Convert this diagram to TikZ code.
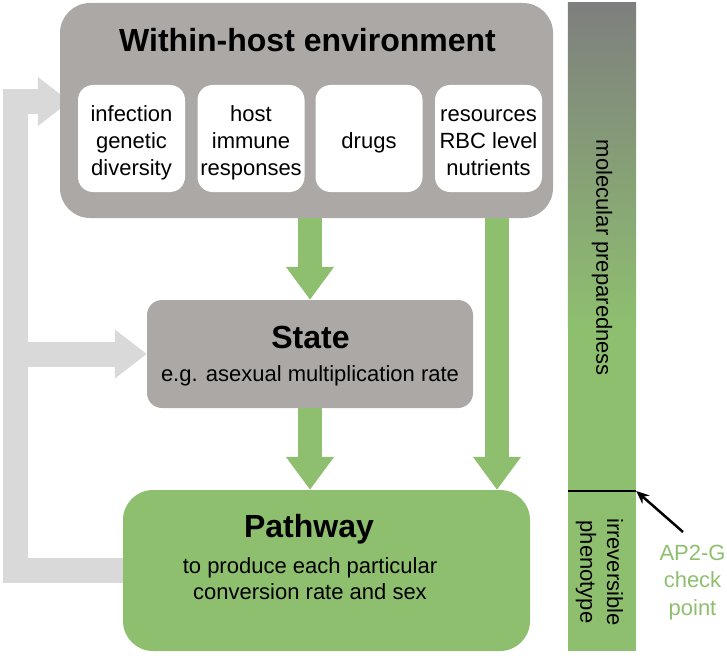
\documentclass[tikz,border=0pt]{standalone}
\usepackage{fontspec}
\setmainfont{Liberation Sans}
\usetikzlibrary{arrows.meta}
\pgfdeclarelayer{bg}
\pgfsetlayers{bg,main}
\definecolor{boxgrey}{HTML}{ABA8A6}
\definecolor{leaf}{HTML}{8EBF6F}
\definecolor{pale}{HTML}{D9D9D9}
\definecolor{bartop}{HTML}{7E7F7E}
\newcommand{\txtA}{\fontsize{22}{26.7}\selectfont}
\newcommand{\ttlfont}{\fontsize{32}{38}\selectfont\bfseries}
\newcommand{\boxlines}[1]{\begin{tabular}{@{}c@{}}\rule{0pt}{28pt}#1\end{tabular}}
\tikzset{
  bigbox/.style={fill=boxgrey, draw=none, rounded corners=30pt, inner sep=0pt},
  innerbox/.style={fill=white, draw=none, rounded corners=15pt, inner sep=0pt,
    minimum width=107pt, minimum height=107pt, align=center},
  statebox/.style={fill=boxgrey, draw=none, rounded corners=15pt, inner sep=0pt,
    minimum width=326pt, minimum height=108pt},
  pathbox/.style={fill=leaf, draw=none, rounded corners=30pt, inner sep=0pt,
    minimum width=407pt, minimum height=161pt},
  barbox/.style={fill=leaf, draw=none, inner sep=0pt, minimum width=68pt, minimum height=648pt},
  ttl/.style={font=\ttlfont, anchor=base, inner sep=0pt},
  plain/.style={font=\txtA, inner sep=0pt},
  garrow/.style={leaf, line width=24pt, -{Triangle[width=46pt,length=33pt]}},
  parrow/.style={pale, line width=25pt, line join=miter, -{Triangle[width=47pt,length=32pt]}},
}
\begin{document}
\begin{tikzpicture}[x=1pt, y=-1pt, every node/.style={font=\txtA}]
\useasboundingbox (0,0) rectangle (727,655);

% boxes
\node[bigbox, minimum width=493pt, minimum height=215pt] (env) at (306.5,110.5) {};
\node[ttl] (envT) at (307.5,52) {Within-host environment};
\node[innerbox] (b1) at (131.5,138.5) {\boxlines{infection\\genetic\\diversity}};
\node[innerbox] (b2) at (251,138.5) {\boxlines{host\\immune\\responses}};
\node[innerbox] (b3) at (369,138.5) {\boxlines{drugs}};
\node[innerbox] (b4) at (488.5,138.5) {\boxlines{resources\\RBC level\\nutrients}};

\node[statebox] (state) at (310,354) {};
\node[ttl] (stateT) at (310.5,348) {State};
\node[plain, anchor=base] (stateS) at (310,381) {e.g. asexual multiplication rate};

\node[pathbox] (path) at (326.5,570.5) {};
\node[ttl] (pathT) at (309,537) {Pathway};
\node[plain, anchor=base] (pathS) at (310,573)
  {\begin{tabular}[t]{@{}c@{}}to produce each particular\\conversion rate and sex\end{tabular}};

% right bar
\node[barbox] (bar) at (602,327) {};
\shade[top color=bartop, bottom color=leaf] (bar.north west) rectangle (bar.east);
\coordinate (ck) at (602,491);
\draw[line width=2pt] (bar.west |- ck) -- (bar.east |- ck);
\node[plain, rotate=-90] (mol) at (602,258) {molecular preparedness};
\node[plain, rotate=-90] (irr) at (599,572)
  {\begin{tabular}{@{}c@{}}irreversible\\phenotype\end{tabular}};
\node[plain, anchor=base, text=leaf] (ap) at (692.5,560)
  {\fontsize{22}{27.5}\selectfont\begin{tabular}[t]{@{}c@{}}AP2-G\\check\\point\end{tabular}};
\coordinate (apS) at (683,532);
\draw[line width=2.5pt, -{Stealth[length=13pt,width=11pt]}] (apS) -- (bar.east |- ck);

% connectors behind
\begin{pgfonlayer}{bg}
  \coordinate (loopB) at (15.5,570);
  \coordinate (envIn) at ([xshift=10pt,yshift=9pt]env.west);
  \draw[parrow] (path.center |- loopB) -- (loopB) -- (loopB |- envIn) -- (envIn);
  \draw[parrow] (loopB |- state.west) -- (state.west);
  \coordinate (rx) at (497,0);
  \draw[garrow] (state.north |- env.center) -- (state.north);
  \draw[garrow] (state.center) -- (state.south |- path.north);
  \draw[garrow] (rx |- env.center) -- (rx |- path.north);
\end{pgfonlayer}
\end{tikzpicture}
\end{document}
